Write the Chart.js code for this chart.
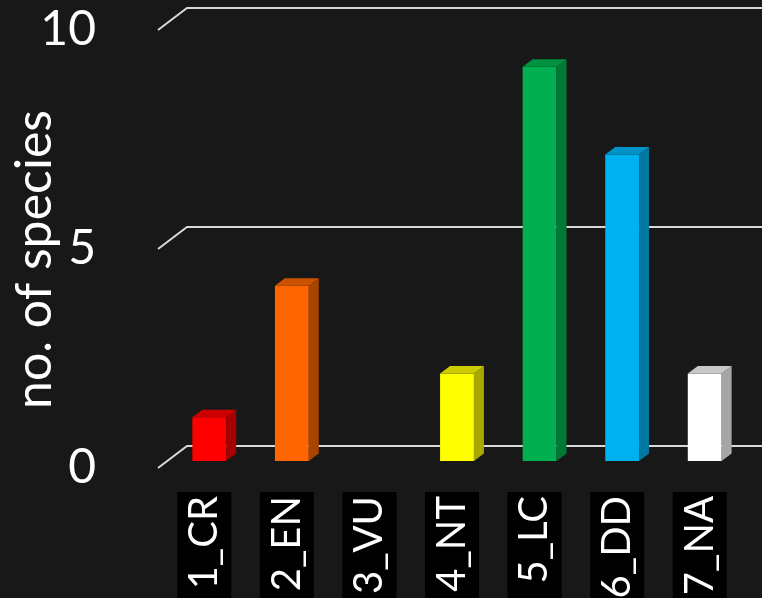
<!DOCTYPE html>
<html>
<head>
<meta charset="utf-8">
<script src="https://cdn.jsdelivr.net/npm/chart.js@4"></script>
<style>
  html, body { margin: 0; padding: 0; background: #181818; }
  canvas { display: block; }
</style>
</head>
<body>
<canvas id="chart" width="762" height="598"></canvas>
<script>
// chart data

const categories = ["1_CR", "2_EN", "3_VU", "4_NT", "5_LC", "6_DD", "7_NA"];
const speciesCounts = [1, 4, 0, 2, 9, 7, 2];
const yTicks = [0, 5, 10];
const axisTitle = "no. of species";

// bar colours: front face, side face, top face
const frontColors = ["#ff0000", "#ff6600", "#ffc000", "#ffff00", "#00b050", "#00b0f0", "#ffffff"];
const sideColors = ["#a60000", "#a84300", "#a67d00", "#a8a800", "#007a33", "#00779f", "#a6a6a6"];
const topColors = ["#cc0000", "#cc5200", "#cc9a00", "#cccc00", "#00923f", "#0093c8", "#c8c8c8"];

// 3d offsets (pixels)
const depth = { floorX: -10, floorY: 7, wallX: 19, wallY: -15, barX: 10, barY: -7.5 };

const threeD = {
  id: "threeD",
  beforeDraw(chart) {
    const ctx = chart.ctx;
    ctx.save();
    ctx.fillStyle = "#181818";
    ctx.fillRect(0, 0, chart.width, chart.height);
    ctx.restore();
  },
  beforeDatasetsDraw(chart) {
    // back wall grid lines with their perspective stubs
    const { ctx, chartArea, scales: { y } } = chart;
    ctx.save();
    ctx.strokeStyle = "#d9d9d9";
    ctx.lineWidth = 2;
    y.ticks.forEach((t) => {
      const py = y.getPixelForValue(t.value);
      ctx.beginPath();
      ctx.moveTo(chartArea.left + depth.floorX, py + depth.floorY);
      ctx.lineTo(chartArea.left + depth.wallX, py + depth.wallY);
      ctx.lineTo(chart.width, py + depth.wallY);
      ctx.stroke();
    });
    ctx.restore();
  },
  afterDatasetsDraw(chart) {
    // side and top faces of each bar
    const ctx = chart.ctx;
    const meta = chart.getDatasetMeta(0);
    ctx.save();
    meta.data.forEach((bar, i) => {
      if (!speciesCounts[i]) return;
      const { x, y, base, width } = bar.getProps(["x", "y", "base", "width"], true);
      const l = x - width / 2;
      const r = x + width / 2;
      ctx.fillStyle = sideColors[i];
      ctx.beginPath();
      ctx.moveTo(r, y);
      ctx.lineTo(r + depth.barX, y + depth.barY);
      ctx.lineTo(r + depth.barX, base + depth.barY);
      ctx.lineTo(r, base);
      ctx.closePath();
      ctx.fill();
      ctx.fillStyle = topColors[i];
      ctx.beginPath();
      ctx.moveTo(l, y);
      ctx.lineTo(l + depth.barX, y + depth.barY);
      ctx.lineTo(r + depth.barX, y + depth.barY);
      ctx.lineTo(r, y);
      ctx.closePath();
      ctx.fill();
    });
    ctx.restore();
  },
  afterDraw(chart) {
    // y axis title
    const { ctx, scales: { y } } = chart;
    const cy = y.getPixelForValue(4.6);
    ctx.save();
    ctx.translate(35, cy);
    ctx.rotate(-Math.PI / 2);
    ctx.font = "50px Lato";
    ctx.fillStyle = "#ffffff";
    ctx.textAlign = "center";
    ctx.textBaseline = "middle";
    ctx.fillText(axisTitle, 0, 0);
    ctx.restore();
  }
};

function noPadding(scale) {
  scale.paddingTop = 0;
  scale.paddingBottom = 0;
  scale.paddingLeft = 0;
  scale.paddingRight = 0;
}

window.addEventListener("DOMContentLoaded", () => {
  const chartCanvas = document.getElementById("chart");
  new Chart(chartCanvas, {
    type: "bar",
    data: {
      labels: categories,
      datasets: [
        {
          data: speciesCounts,
          backgroundColor: frontColors,
          borderWidth: 0,
          barPercentage: 0.41,
          categoryPercentage: 1,
        },
      ],
    },
    options: {
      responsive: false,
      animation: false,
      layout: { padding: { left: 0, right: 16, top: 23, bottom: 0 } },
      plugins: {
        legend: { display: false },
        tooltip: { enabled: false },
      },
      scales: {
        x: {
          grid: { display: false },
          border: { display: false },
          ticks: {
            color: "#ffffff",
            font: { family: "Lato", size: 40 },
            minRotation: 90,
            maxRotation: 90,
            autoSkip: false,
            padding: 27,
            labelOffset: -29,
            showLabelBackdrop: true,
            backdropColor: "#000000",
            backdropPadding: { left: 20, right: 4, top: 3, bottom: 3 },
          },
          afterFit(scale) {
            scale.height = 137;
            noPadding(scale);
          },
        },
        y: {
          min: 0,
          max: 10,
          grid: { display: false },
          border: { display: false },
          afterBuildTicks(scale) {
            scale.ticks = yTicks.map((v) => ({ value: v }));
          },
          ticks: {
            color: "#ffffff",
            font: { family: "Lato", size: 48, lineHeight: 0.9 },
            padding: 64,
            labelOffset: 7,
          },
          afterFit(scale) {
            scale.width = 168;
            noPadding(scale);
          },
        },
      },
    },
    plugins: [threeD],
  });
});
</script>
</body>
</html>
